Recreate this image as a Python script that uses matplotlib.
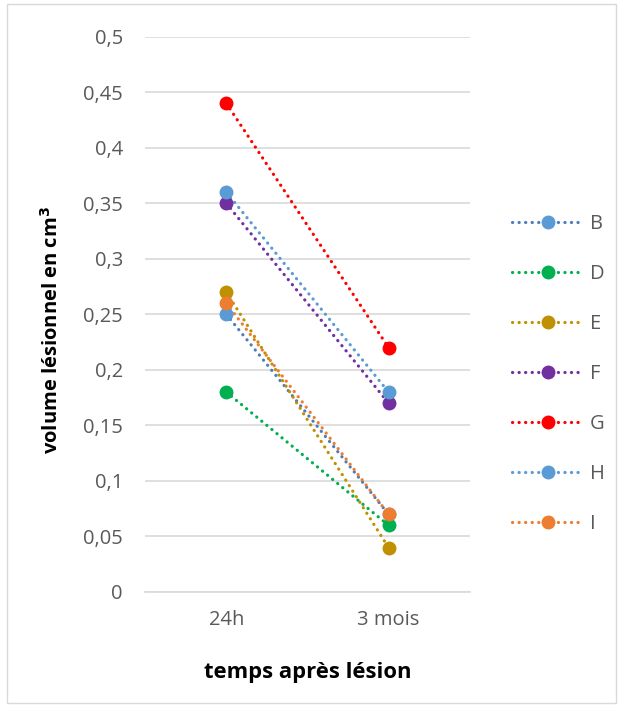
import matplotlib
matplotlib.use("Agg")
import matplotlib.pyplot as plt
from matplotlib.lines import Line2D
from matplotlib.patches import Rectangle

plt.rcParams['font.family'] = ['Open Sans', 'DejaVu Sans']

categories = ["24h", "3 mois"]
series_names = ["B", "D", "E", "F", "G", "H", "I"]
B = [0.25, 0.07]
D = [0.18, 0.06]
E = [0.27, 0.04]
F = [0.35, 0.17]
G = [0.44, 0.22]
H = [0.36, 0.18]
I = [0.26, 0.07]
series_values = [B, D, E, F, G, H, I]
line_colors = ["#4a7ebb", "#00b050", "#bf9000", "#7030a0", "#ff0000", "#5b9bd5", "#ed7d31"]
marker_colors = ["#5b9bd5", "#00b050", "#bf9000", "#7030a0", "#ff0000", "#5b9bd5", "#ed7d31"]
yticks = [0, 0.05, 0.1, 0.15, 0.2, 0.25, 0.3, 0.35, 0.4, 0.45, 0.5]
ytick_labels = ["0", "0,05", "0,1", "0,15", "0,2", "0,25", "0,3", "0,35", "0,4", "0,45", "0,5"]

DOT = (0, (0.05, 2.0))
LW = 2.3

fig = plt.figure(figsize=(6.23, 7.06), dpi=100)
fig.patches.append(Rectangle((0.011, 0.004), 0.978, 0.99, transform=fig.transFigure,
                             fill=False, edgecolor="#d9d9d9", linewidth=1))
ax = fig.add_axes([0.233, 0.1615, 0.521, 0.7865])

x = list(range(len(categories)))
handles = []
for name, vals, lc, mc in zip(series_names, series_values, line_colors, marker_colors):
    ax.plot(x, vals, color=lc, linestyle=DOT, linewidth=LW,
            dash_capstyle='round', zorder=2)
    ax.plot(x, vals, linestyle='none', marker='o', markersize=9, color=mc,
            markeredgecolor=mc, zorder=3)
    handles.append(Line2D([], [], color=lc, linestyle=DOT, linewidth=LW,
                          dash_capstyle='round', marker='o', markersize=9,
                          markerfacecolor=mc, markeredgecolor=mc, label=name))

ax.set_xlim(-0.5, 1.5)
ax.set_ylim(0, 0.5)
ax.set_yticks(yticks)
ax.set_yticklabels(ytick_labels)
ax.set_xticks(x)
ax.set_xticklabels(categories)
ax.yaxis.grid(True, color="#d9d9d9", linewidth=1.2)
ax.set_axisbelow(True)
for s in ["top", "right", "left"]:
    ax.spines[s].set_visible(False)
ax.spines["bottom"].set_color("#d9d9d9")
ax.spines["bottom"].set_linewidth(1.2)
ax.tick_params(axis='both', length=0, labelsize=14.5, labelcolor="#595959")
ax.tick_params(axis='x', pad=13)
ax.tick_params(axis='y', pad=16)
ax.set_xlabel("temps après lésion", fontsize=15.8, fontweight='bold')
ax.set_ylabel("volume lésionnel en cm$^{\\mathbf{3}}$", fontsize=14.5, fontweight='bold')
ax.xaxis.set_label_coords(0.5, -0.126)
ax.yaxis.set_label_coords(-0.255, 0.472)

leg = fig.legend(handles=handles, loc='center left', bbox_to_anchor=(0.792, 0.47),
                 frameon=False, fontsize=14.5, labelspacing=1.49, handlelength=3.6,
                 handletextpad=0.3)
for t in leg.get_texts():
    t.set_color("#595959")

fig.savefig("out.png", dpi=100)
